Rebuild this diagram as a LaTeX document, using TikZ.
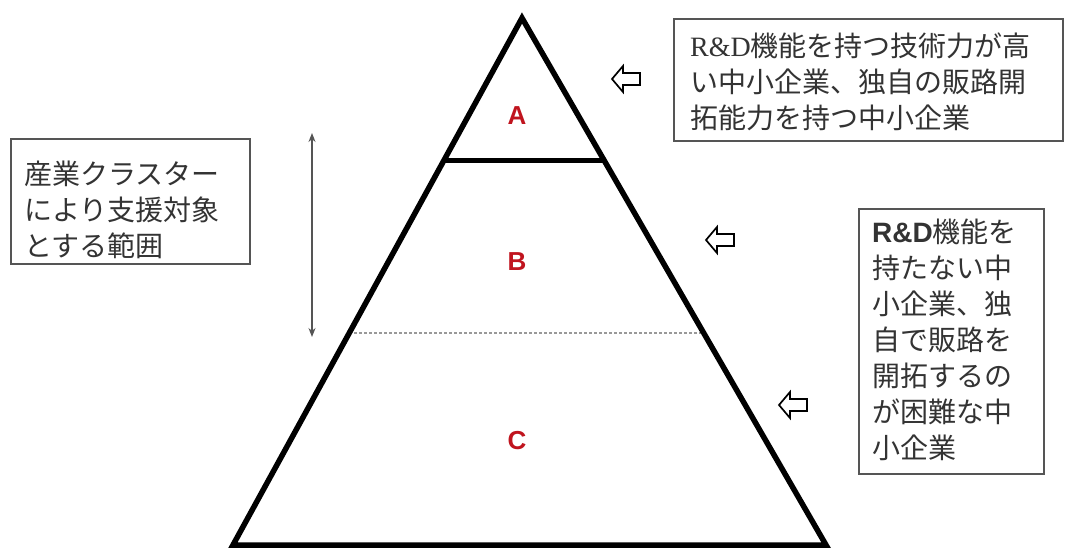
\documentclass[tikz,border=0pt]{standalone}
\usepackage{fontspec}
\setmainfont{Liberation Serif}
\newfontfamily\jp{Noto Sans CJK JP}
\newfontfamily\arial{Liberation Sans}
\usetikzlibrary{arrows.meta}
\definecolor{txt}{HTML}{333333}
\definecolor{boxline}{HTML}{555555}
\definecolor{lab}{HTML}{C0141E}
\tikzset{
  tri/.style={line width=5.5pt, line join=miter},
  boxframe/.style={draw=boxline, line width=2pt, fill=white, anchor=north west, inner sep=0pt},
  boxtext/.style={text=txt, align=left, inner sep=0pt, font=\fontsize{28}{36}\selectfont\jp},
  layerlabel/.style={text=lab, font=\fontsize{26}{26}\selectfont\arial\bfseries},
  hollow/.pic={\draw[line width=1.7pt, line join=miter, fill=white]
     (-14,0) -- (-3,-13) -- (-3,-6) -- (14,-6) -- (14,6) -- (-3,6) -- (-3,13) -- cycle;}
}
\begin{document}
\begin{tikzpicture}[x=1pt,y=-1pt]
\useasboundingbox (0,0) rectangle (1072,547);
% triangle
\coordinate (apex) at (522,18);
\coordinate (bl) at (233,545);
\coordinate (br) at (826,545);
\coordinate (abl) at (444,160);
\coordinate (abr) at (604,160);
\coordinate (bcl) at (349,333);
\coordinate (bcr) at (704,333);
\draw[gray!80, line width=1.5pt, dash pattern=on 3pt off 2pt] (bcl) -- (bcr);
\draw[tri] (apex) -- (br) -- (bl) -- cycle;
\draw[line width=5pt] (abl) -- (abr);
\node[layerlabel] (A) at (517,116) {A};
\node[layerlabel] (B) at (517,262) {B};
\node[layerlabel] (C) at (517,441) {C};
% range arrow
\coordinate (rtop) at (312,133);
\coordinate (rbot) at (312,337);
\draw[boxline, line width=1.4pt, {Stealth[length=9pt,width=7pt]}-{Stealth[length=9pt,width=7pt]}] (rtop) -- (rbot);
% boxes
\node[boxframe, minimum width=239pt, minimum height=125pt] (left) at (10,138) {};
\node[boxtext, anchor=west] (lefttext) at ([xshift=14pt,yshift=-8pt]left.west)
  {産業クラスター\\により支援対象\\とする範囲};
\node[boxframe, minimum width=389pt, minimum height=122pt] (top) at (673,18) {};
\node[boxtext, anchor=west] (toptext) at ([xshift=17pt,yshift=-2pt]top.west)
  {{\rmfamily R\&D}機能を持つ技術力が高\\い中小企業、独自の販路開\\拓能力を持つ中小企業};
\node[boxframe, minimum width=185pt, minimum height=265pt] (right) at (858,208) {};
\node[boxtext, anchor=west] (righttext) at ([xshift=14pt,yshift=2pt]right.west)
  {{\arial\bfseries R\&D}機能を\\持たない中\\小企業、独\\自で販路を\\開拓するの\\が困難な中\\小企業};
% hollow arrows
\pic at (626,79) {hollow};
\pic at (720,240) {hollow};
\pic at (793,405) {hollow};
\end{tikzpicture}
\end{document}
